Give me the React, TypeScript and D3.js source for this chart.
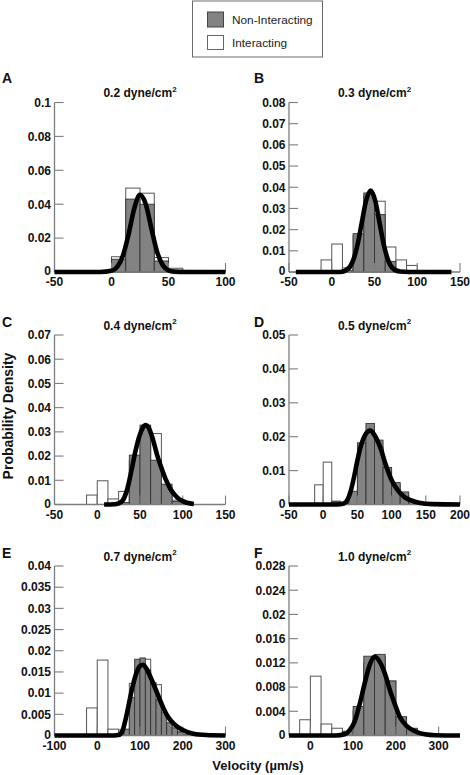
import React from 'react';
import * as d3 from 'd3';

// ---------- panel metadata ----------
const panelLetters = ['A', 'B', 'C', 'D', 'E', 'F'];
const shearStress = ['0.2', '0.3', '0.4', '0.5', '0.7', '1.0'];
const xDomains: [number, number][] = [[-50, 100], [-50, 150], [-50, 150], [-50, 200], [-100, 300], [-50, 350]];
const xTicks = [
  [-50, 0, 50, 100],
  [-50, 0, 50, 100, 150],
  [-50, 0, 50, 100, 150],
  [-50, 0, 50, 100, 150, 200],
  [-100, 0, 100, 200, 300],
  [0, 100, 200, 300],
];
const yMax = [0.1, 0.08, 0.07, 0.05, 0.04, 0.028];
const yTickLabels = [
  ['0', '0.02', '0.04', '0.06', '0.08', '0.1'],
  ['0', '0.01', '0.02', '0.03', '0.04', '0.05', '0.06', '0.07', '0.08'],
  ['0', '0.01', '0.02', '0.03', '0.04', '0.05', '0.06', '0.07'],
  ['0', '0.01', '0.02', '0.03', '0.04', '0.05'],
  ['0', '0.005', '0.01', '0.015', '0.02', '0.025', '0.03', '0.035', '0.04'],
  ['0', '0.004', '0.008', '0.012', '0.016', '0.02', '0.024', '0.028'],
];

// ---------- histogram data (bin start, probability density) ----------
// Interacting (white) bins
const interBinW = [12.5, 12.5, 12.5, 12.5, 25, 25];
const interStartA = [0, 12.5, 25, 37.5, 50];
const interA = [0.009, 0.0495, 0.0465, 0.0085, 0.0022];
const interStartB = [-12.5, 0, 12.5, 25, 37.5, 50, 62.5, 75, 87.5];
const interB = [0.0057, 0.0132, 0.0019, 0.017, 0.036, 0.0334, 0.0118, 0.0057, 0.0031];
const interStartC = [-12.5, 0, 12.5, 25, 37.5, 50, 62.5, 75, 87.5];
const interC = [0.0039, 0.0098, 0.0023, 0.0054, 0.018, 0.03, 0.0293, 0.007, 0.0018];
const interStartD = [-12.5, 0, 12.5, 25, 37.5, 50, 62.5, 75, 87.5, 100, 112.5, 125, 137.5, 150, 162.5];
const interD = [0.0058, 0.0125, 0.001, 0.0003, 0.003, 0.015, 0.02, 0.017, 0.01, 0.006, 0.003, 0.0012, 0.0005, 0.0005, 0.0005];
const interStartE = [-25, 0, 25, 50, 75, 100, 125, 150, 175];
const interE = [0.0065, 0.0178, 0.0015, 0.0013, 0.0123, 0.018, 0.012, 0.0027, 0.001];
const interStartF = [-25, 0, 25, 50, 75, 100, 125, 150, 175, 200, 225];
const interF = [0.0026, 0.0098, 0.0019, 0.0012, 0.0005, 0.004, 0.012, 0.013, 0.009, 0.003, 0.001];

// Non-interacting (grey) bins
const nonBinW = [12.5, 12.5, 12.5, 12.5, 12.5, 25];
const nonStartA = [0, 12.5, 25, 37.5];
const nonA = [0.0075, 0.043, 0.04, 0.0065];
const nonStartB = [12.5, 25, 37.5, 50, 62.5];
const nonB = [0.0008, 0.0181, 0.0373, 0.0271, 0.005];
const nonStartC = [25, 37.5, 50, 62.5, 75, 87.5];
const nonC = [0.0008, 0.0204, 0.0328, 0.0183, 0.0084, 0.0012];
const nonStartD = [12.5, 25, 37.5, 50, 62.5, 75, 87.5, 100, 112.5, 125, 137.5];
const nonD = [0.0008, 0.0003, 0.0039, 0.0182, 0.0239, 0.019, 0.0109, 0.0065, 0.0037, 0.0012, 0.0004];
const nonStartE = [50, 62.5, 75, 87.5, 100, 112.5, 125, 137.5, 150, 162.5, 175, 187.5, 200];
const nonE = [0.0005, 0.0015, 0.009, 0.018, 0.0183, 0.0155, 0.0125, 0.0085, 0.0055, 0.003, 0.0018, 0.0008, 0.0003];
const nonStartF = [75, 100, 125, 150, 175, 200, 225, 250];
const nonF = [0.0007, 0.0048, 0.0131, 0.0134, 0.009, 0.0031, 0.0012, 0.0003];

// ---------- fitted curves (velocity, density) ----------
const curveAx = [-50, -10, 0, 5, 10, 15, 20, 25, 30, 35, 40, 45, 50, 55, 65, 100];
const curveAy = [0, 0, 0.0007, 0.003, 0.0096, 0.0223, 0.0376, 0.0455, 0.0401, 0.0257, 0.0119, 0.004, 0.001, 0.0002, 0, 0];
const curveBx = [-42, 10, 20, 25, 30, 35, 40, 45.5, 51, 56, 61, 66, 71, 80, 90, 140];
const curveBy = [0, 0, 0.0019, 0.0055, 0.0126, 0.023, 0.0334, 0.0384, 0.0334, 0.023, 0.0126, 0.0055, 0.0019, 0.0002, 0, 0];
const curveCx = [8, 20, 25, 30, 35, 40, 45, 50, 55, 57, 60, 65, 70, 75, 80, 85, 90, 95, 100, 105, 113];
const curveCy = [0, 0.0001, 0.0005, 0.0018, 0.0062, 0.014, 0.0225, 0.029, 0.0325, 0.0328, 0.0318, 0.027, 0.0205, 0.0152, 0.0105, 0.0068, 0.0042, 0.0025, 0.0014, 0.0007, 0.0002];
const curveDx = [-50, 20, 30, 35, 40, 45, 50, 55, 60, 65, 69, 75, 80, 85, 90, 95, 100, 105, 110, 115, 120, 130, 140, 160, 200];
const curveDy = [0, 0, 0.0003, 0.0012, 0.0038, 0.008, 0.013, 0.0172, 0.02, 0.0215, 0.0218, 0.0205, 0.0185, 0.016, 0.0126, 0.0097, 0.0072, 0.0054, 0.004, 0.0029, 0.002, 0.0011, 0.0005, 0.0001, 0];
const curveEx = [-100, 40, 50, 60, 70, 80, 90, 100, 107, 115, 125, 135, 145, 155, 165, 180, 200, 225, 255, 300];
const curveEy = [0, 0, 0.0001, 0.0014, 0.0055, 0.0104, 0.0143, 0.0164, 0.0167, 0.0158, 0.0137, 0.0113, 0.0088, 0.0064, 0.0045, 0.0027, 0.0013, 0.0004, 0.0001, 0];
const curveFx = [-50, 60, 80, 92, 103.5, 115, 127, 139, 150, 162, 174, 186, 198, 209, 225, 245, 268, 292, 350];
const curveFy = [0, 0, 0.0002, 0.0009, 0.0023, 0.0051, 0.0086, 0.0117, 0.013, 0.0122, 0.0103, 0.0075, 0.0051, 0.0031, 0.0016, 0.0007, 0.0002, 0.00005, 0];

const interStarts = [interStartA, interStartB, interStartC, interStartD, interStartE, interStartF];
const interVals = [interA, interB, interC, interD, interE, interF];
const nonStarts = [nonStartA, nonStartB, nonStartC, nonStartD, nonStartE, nonStartF];
const nonVals = [nonA, nonB, nonC, nonD, nonE, nonF];
const curveXs = [curveAx, curveBx, curveCx, curveDx, curveEx, curveFx];
const curveYs = [curveAy, curveBy, curveCy, curveDy, curveEy, curveFy];

// ---------- layout ----------
const FONT = 'Liberation Sans, Arial, Helvetica, sans-serif';
const PW = 171;
const PH = 169.5;
const colX = [54.5, 289];
const rowY = [102.5, 335, 566];
const letterY = [83, 327, 558];
const AXIS = '#7d7d7d';
const GREY = '#838383';

function Panel({ i }: { i: number }) {
  const col = i % 2;
  const row = Math.floor(i / 2);
  const x0 = colX[col];
  const y0 = rowY[row];
  const xs = d3.scaleLinear().domain(xDomains[i]).range([x0, x0 + PW]);
  const ys = d3.scaleLinear().domain([0, yMax[i]]).range([y0 + PH, y0]);
  const base = ys(0);
  const pts: [number, number][] = curveXs[i].map((x, k) => [x, curveYs[i][k]]);
  const line = d3
    .line<[number, number]>()
    .x((d) => xs(d[0]))
    .y((d) => ys(d[1]))
    .curve(d3.curveMonotoneX);
  const yStep = yMax[i] / (yTickLabels[i].length - 1);

  return (
    <g>
      {/* interacting (white) */}
      {interStarts[i].map((s, k) => {
        const v = interVals[i][k];
        return (
          <rect
            key={'w' + k}
            x={xs(s)}
            y={ys(v)}
            width={xs(s + interBinW[i]) - xs(s)}
            height={base - ys(v)}
            fill="#ffffff"
            stroke="#555"
            strokeWidth={1}
          />
        );
      })}
      {/* non-interacting (grey) */}
      {nonStarts[i].map((s, k) => {
        const v = nonVals[i][k];
        return (
          <rect
            key={'g' + k}
            x={xs(s)}
            y={ys(v)}
            width={xs(s + nonBinW[i]) - xs(s)}
            height={base - ys(v)}
            fill={GREY}
            stroke="#333"
            strokeWidth={0.9}
          />
        );
      })}
      {/* axes */}
      <line x1={x0} x2={x0 + PW} y1={base} y2={base} stroke={AXIS} strokeWidth={1.3} />
      <line x1={x0} x2={x0} y1={base} y2={y0} stroke={AXIS} strokeWidth={1.3} />
      {yTickLabels[i].map((lab, k) => {
        const y = ys(k * yStep);
        return (
          <g key={'yt' + k}>
            <line x1={x0} x2={x0 + 9} y1={y} y2={y} stroke={AXIS} strokeWidth={1.1} />
            <text x={x0 - 3.5} y={y + (k === 0 ? 3 : 4.3)} textAnchor="end" fontSize={12} fontWeight="bold" fontFamily={FONT} fill="#111">
              {lab}
            </text>
          </g>
        );
      })}
      {xTicks[i].map((t, k) => (
        <g key={'xt' + k}>
          <line x1={xs(t)} x2={xs(t)} y1={base} y2={base - 9} stroke={AXIS} strokeWidth={1.1} />
          <text x={xs(t)} y={base + 14} textAnchor="middle" fontSize={12} fontWeight="bold" fontFamily={FONT} fill="#111">
            {t}
          </text>
        </g>
      ))}
      {/* fitted curve */}
      <path d={line(pts) || ''} fill="none" stroke="#000" strokeWidth={4.6} />
      {/* title */}
      <text x={x0 + PW / 2} y={y0 - 5.5} textAnchor="middle" fontSize={12} fontWeight="bold" fontFamily={FONT} fill="#111">
        {shearStress[i]} dyne/cm
        <tspan fontSize={8} dy={-5.5}>2</tspan>
      </text>
      <text x={col === 0 ? 2 : 254} y={letterY[row]} fontSize={14} fontWeight="bold" fontFamily={FONT} fill="#111">
        {panelLetters[i]}
      </text>
    </g>
  );
}

export default function App() {
  return (
    <svg width={470} height={775} style={{ position: 'absolute', left: 0, top: 0, background: '#fff' }}>
      <rect x={0} y={0} width={470} height={775} fill="#fff" />
      {/* legend */}
      <rect x={192.5} y={1} width={130} height={56} fill="#fff" stroke="#6a6a6a" strokeWidth={1} />
      <rect x={207.5} y={12} width={16} height={15} fill={GREY} stroke="#444" strokeWidth={1} />
      <rect x={207.5} y={35.5} width={16} height={14} fill="#fff" stroke="#666" strokeWidth={1} />
      <text x={232} y={23.5} fontSize={11.8} fontFamily={FONT} fill="#222">Non-Interacting</text>
      <text x={232} y={47} fontSize={11.8} fontFamily={FONT} fill="#222">Interacting</text>
      {[0, 1, 2, 3, 4, 5].map((i) => (
        <Panel key={i} i={i} />
      ))}
      <text
        transform="translate(13,416) rotate(-90)"
        textAnchor="middle"
        fontSize={14}
        fontWeight="bold"
        fontFamily={FONT}
        fill="#111"
      >
        Probability Density
      </text>
      <text x={258} y={770} textAnchor="middle" fontSize={13} fontWeight="bold" fontFamily={FONT} fill="#111">
        Velocity (µm/s)
      </text>
    </svg>
  );
}
